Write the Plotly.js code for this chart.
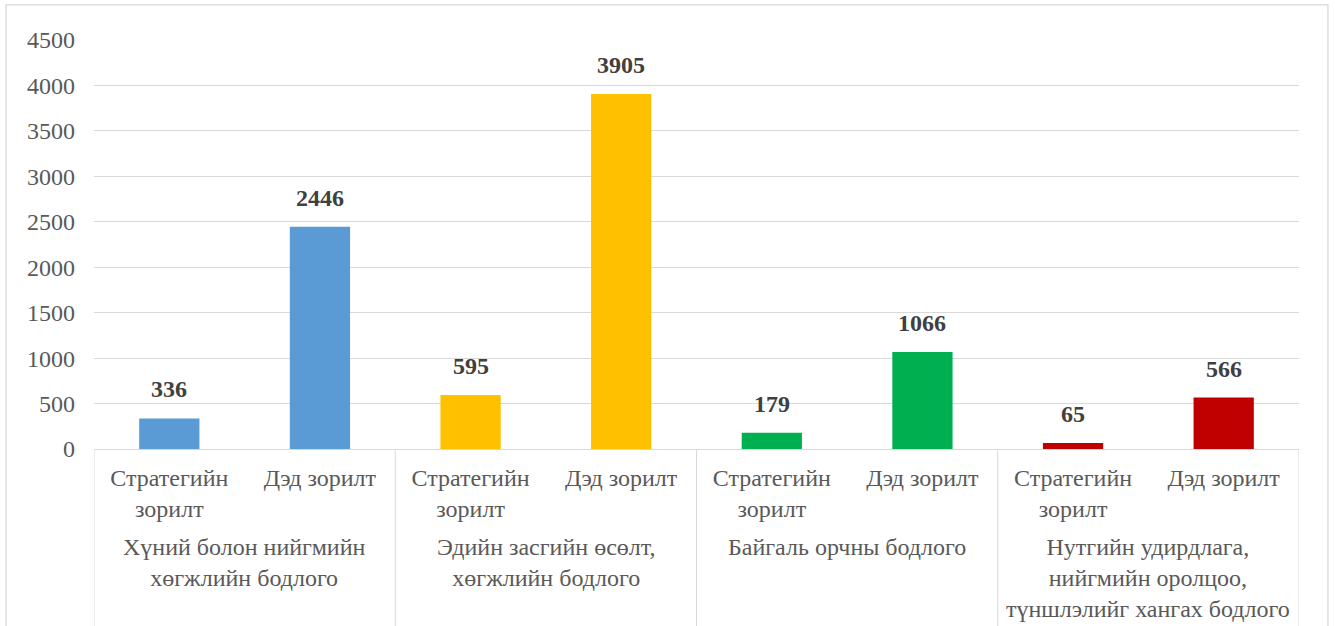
<!DOCTYPE html>
<html><head><meta charset="utf-8">
<script src="https://cdn.plot.ly/plotly-3.0.1.min.js"></script>
<style>body{margin:0;background:#fff}#c{width:1335px;height:626px}</style>
</head><body><div id="c"></div>
<script>
const groups = ["Хүний болон нийгмийн<br>хөгжлийн бодлого","Эдийн засгийн өсөлт,<br>хөгжлийн бодлого","Байгаль орчны бодлого","Нутгийн удирдлага,<br>нийгмийн оролцоо,<br>түншлэлийг хангах бодлого"];
const subs = ["Стратегийн<br>зорилт","Дэд зорилт"];
const values = [336, 2446, 595, 3905, 179, 1066, 65, 566];
const colors = ["#5B9BD5","#5B9BD5","#FFC000","#FFC000","#00B050","#00B050","#C00000","#C00000"];
const yTicks = [0,500,1000,1500,2000,2500,3000,3500,4000,4500];

const xs = values.map((v,i)=>i);
const ticktext = values.map((v,i)=>subs[i%2]);
const font = '"Liberation Serif", "Times New Roman", serif';

const annotations = values.map((v,i)=>({x:i,y:v,xref:'x',yref:'y',text:'<b>'+v+'</b>',showarrow:false,yanchor:'bottom',yshift:14,font:{family:font,size:24,color:'#404040'}}));
groups.forEach((g,j)=>annotations.push({x:2*j+0.5,y:-0.204,xref:'x',yref:'paper',text:g,showarrow:false,yanchor:'top',align:'center',font:{family:font,size:24,color:'#595959'}}));

const shapes = [];
for (let j=0;j<=groups.length;j++){
  shapes.push({type:'line',xref:'x',yref:'paper',x0:2*j-0.5,x1:2*j-0.5,y0:0,y1:-0.6,line:{color:'#d9d9d9',width:1}});
}
shapes.push({type:'rect',xref:'paper',yref:'paper',x0:-0.073,x1:1.024,y0:-0.6,y1:1.086,line:{color:'#d9d9d9',width:1.3},fillcolor:'rgba(0,0,0,0)'});

Plotly.newPlot('c',[{type:'bar',x:xs,y:values,marker:{color:colors},hoverinfo:'none'}],{
  width:1335,height:626,
  margin:{l:94,r:36,t:40,b:177},
  paper_bgcolor:'#fff',plot_bgcolor:'#fff',
  bargap:0.6,showlegend:false,
  xaxis:{tickmode:'array',tickvals:xs,ticktext:ticktext,range:[-0.5,7.5],showgrid:false,zeroline:false,showline:true,linecolor:'#d9d9d9',linewidth:1,ticks:'',ticklabelstandoff:7,tickfont:{family:font,size:24,color:'#595959'},fixedrange:true},
  yaxis:{tickmode:'array',tickvals:yTicks,range:[0,4500],showgrid:true,gridcolor:'#d9d9d9',gridwidth:1,zeroline:false,showline:false,ticks:'',ticklabelstandoff:18,tickfont:{family:font,size:24,color:'#595959'},fixedrange:true},
  annotations:annotations,shapes:shapes
},{displayModeBar:false,staticPlot:true});
</script></body></html>
